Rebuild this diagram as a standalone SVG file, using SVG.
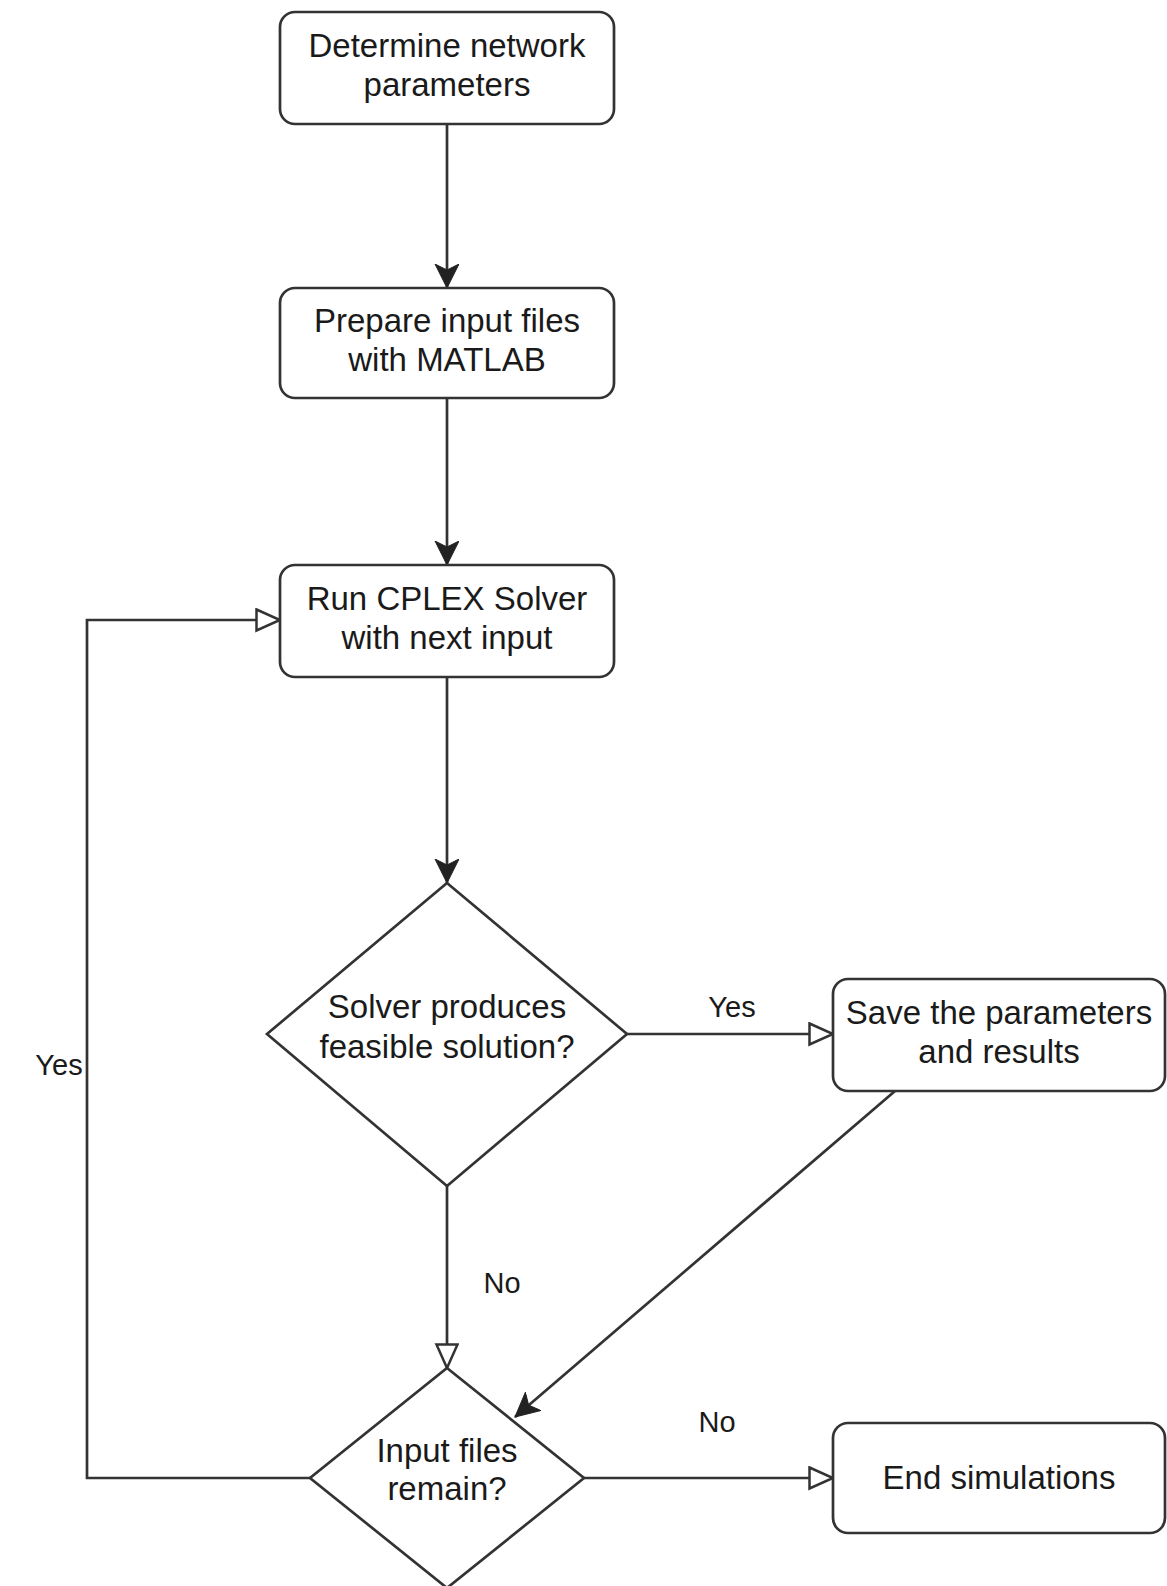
<svg xmlns="http://www.w3.org/2000/svg" width="1167" height="1586" viewBox="0 0 1167 1586">
<style>
.node{fill:#fff;stroke:#333;stroke-width:2.7}
.edge{fill:none;stroke:#333;stroke-width:2.7}
.t{font-family:"Liberation Sans",Arial,sans-serif;font-size:33px;fill:#1a1a1a;text-anchor:middle}
.l{font-family:"Liberation Sans",Arial,sans-serif;font-size:29px;fill:#1a1a1a;text-anchor:middle}
</style>
<defs>
<marker id="filled" markerUnits="userSpaceOnUse" markerWidth="26" markerHeight="26" refX="24" refY="12" orient="auto" viewBox="0 0 26 26">
<path d="M0,0 L24,12 L0,24 L6,12 Z" fill="#222" stroke="#222" stroke-width="1"/>
</marker>
<marker id="open" markerUnits="userSpaceOnUse" markerWidth="28" markerHeight="28" refX="25" refY="12" orient="auto" viewBox="0 0 28 28">
<path d="M1.5,1.5 L25,12 L1.5,22.5 Z" fill="#fff" stroke="#333" stroke-width="2.5" stroke-linejoin="miter"/>
</marker>
</defs>
<rect width="1167" height="1586" fill="#fff"/>
<g id="connectors">
<path class="edge" d="M447,124 V288" marker-end="url(#filled)"/>
<path class="edge" d="M447,398 V565" marker-end="url(#filled)"/>
<path class="edge" d="M447,677 V883" marker-end="url(#filled)"/>
<path class="edge" d="M627,1034 H833" marker-end="url(#open)"/>
<path class="edge" d="M447,1186 V1368" marker-end="url(#open)"/>
<path class="edge" d="M895,1091 L515,1417" marker-end="url(#filled)"/>
<path class="edge" d="M310,1478 H87 V620 H280" marker-end="url(#open)"/>
<path class="edge" d="M584,1478 H833" marker-end="url(#open)"/>
<text class="l" x="732" y="1017">Yes</text>
<text class="l" x="502" y="1293">No</text>
<text class="l" x="59" y="1075">Yes</text>
<text class="l" x="717" y="1432">No</text>
</g>
<g id="n1">
<rect class="node" x="280" y="12" width="334" height="112" rx="15"/>
<text class="t" x="447" y="57">Determine network</text>
<text class="t" x="447" y="96">parameters</text>
</g>
<g id="n2">
<rect class="node" x="280" y="288" width="334" height="110" rx="15"/>
<text class="t" x="447" y="332">Prepare input files</text>
<text class="t" x="447" y="371">with MATLAB</text>
</g>
<g id="n3">
<rect class="node" x="280" y="565" width="334" height="112" rx="15"/>
<text class="t" x="447" y="610">Run CPLEX Solver</text>
<text class="t" x="447" y="649">with next input</text>
</g>
<g id="d1">
<polygon class="node" points="447,883 627,1034 447,1186 267,1034"/>
<text class="t" x="447" y="1018">Solver produces</text>
<text class="t" x="447" y="1058">feasible solution?</text>
</g>
<g id="n4">
<rect class="node" x="833" y="979" width="332" height="112" rx="15"/>
<text class="t" x="999" y="1024">Save the parameters</text>
<text class="t" x="999" y="1063">and results</text>
</g>
<g id="d2">
<polygon class="node" points="447,1368 584,1478 447,1588 310,1478"/>
<text class="t" x="447" y="1462">Input files</text>
<text class="t" x="447" y="1500">remain?</text>
</g>
<g id="n5">
<rect class="node" x="833" y="1423" width="332" height="110" rx="15"/>
<text class="t" x="999" y="1489">End simulations</text>
</g>
</svg>
